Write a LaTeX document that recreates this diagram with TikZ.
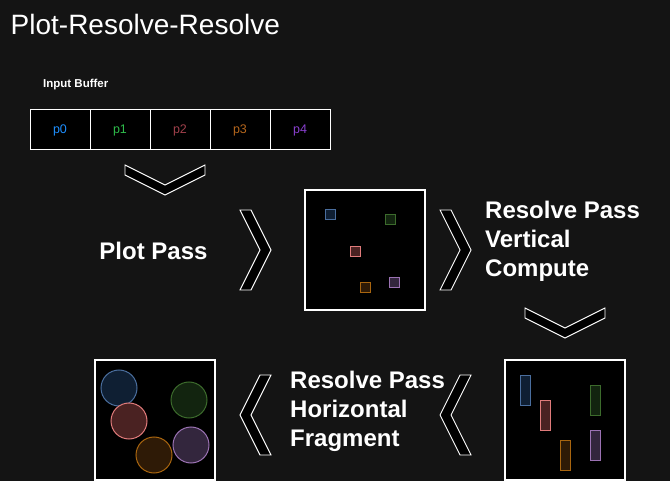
\documentclass[tikz,border=0pt]{standalone}
\usepackage{fontspec}
\setmainfont{Liberation Sans}
\usepackage{tikz}
\usetikzlibrary{positioning,calc}

\definecolor{bgcol}{HTML}{141414}
\definecolor{p0text}{HTML}{1E90FF}
\definecolor{p1text}{HTML}{2EBB4A}
\definecolor{p2text}{HTML}{A0404B}
\definecolor{p3text}{HTML}{B5661C}
\definecolor{p4text}{HTML}{8A40D0}
\definecolor{p0line}{HTML}{4A6E9E}
\definecolor{p0fill}{HTML}{0F1F33}
\definecolor{p1line}{HTML}{3C6B2C}
\definecolor{p1fill}{HTML}{12240F}
\definecolor{p2line}{HTML}{E07B7B}
\definecolor{p2fill}{HTML}{4A2222}
\definecolor{p3line}{HTML}{A8650F}
\definecolor{p3fill}{HTML}{2E1A06}
\definecolor{p4line}{HTML}{9B72B3}
\definecolor{p4fill}{HTML}{33263D}

\begin{document}
\begin{tikzpicture}[x=1pt,y=-1pt,
  cell/.style={rectangle,draw=white,line width=1pt,fill=black,minimum width=60pt,minimum height=40pt,inner sep=0pt,font=\fontsize{12.5}{14}\selectfont,text=#1},
  canvas/.style={rectangle,draw=white,line width=1.2pt,fill=black,minimum size=120pt,inner sep=0pt},
  sq/.style={rectangle,draw=#1line,fill=#1fill,line width=1pt,minimum size=10pt,inner sep=0pt},
  bar/.style={rectangle,draw=#1line,fill=#1fill,line width=1pt,minimum width=10pt,minimum height=30pt,inner sep=0pt},
  blob/.style={circle,draw=#1line,fill=#1fill,line width=1pt,minimum size=36pt,inner sep=0pt},
  chev/.style={draw=white,fill=black,line width=0.9pt,line join=miter},
  passlabel/.style={font=\fontsize{24}{29}\selectfont\bfseries,text=white,align=left,inner sep=0pt},
]

% ==== BACKGROUND ====
\fill[bgcol] (0,0) rectangle (670,481);
\useasboundingbox (0,0) rectangle (670,481);

\node[font=\fontsize{28}{33}\selectfont,text=white,anchor=base west,inner sep=0pt] (title) at (10.5,34.5) {Plot-Resolve-Resolve};

% ==== INPUT BUFFER ====
\node[font=\fontsize{11.5}{14}\selectfont\bfseries,text=white,anchor=base west,inner sep=0pt] (buflabel) at (43,88) {Input Buffer};

\node[cell=p0text] (p0) at (60,130) {p0};
\node[cell=p1text] (p1) at (120,130) {p1};
\node[cell=p2text] (p2) at (180,130) {p2};
\node[cell=p3text] (p3) at (240,130) {p3};
\node[cell=p4text] (p4) at (300,130) {p4};

% down chevron below the buffer
\draw[chev] (125,165) -- (165,185) -- (205,165) -- (205,175) -- (165,195) -- (125,175) -- cycle;

% ==== PLOT PASS ====
\node[passlabel] (plotlbl) at (153.5,251) {Plot Pass};
\draw[chev] (240,210) -- (251,210) -- (271,250) -- (251,290) -- (240,290) -- (260,250) -- cycle;

\node[canvas] (plotbox) at (365,250) {};
\node[sq=p0] (s0) at (330,215) {};
\node[sq=p1] (s1) at (390,220) {};
\node[sq=p2] (s2) at (355,252) {};
\node[sq=p3] (s3) at (365,288) {};
\node[sq=p4] (s4) at (394,283) {};

% ==== VERTICAL RESOLVE ====
\draw[chev] (440,210) -- (451,210) -- (471,250) -- (451,290) -- (440,290) -- (460,250) -- cycle;
\node[passlabel,anchor=west] (vertlbl) at (485,241.5) {Resolve Pass\\Vertical\\Compute};

\draw[chev] (525,308) -- (565,328) -- (605,308) -- (605,318) -- (565,338) -- (525,318) -- cycle;

\node[canvas] (vertbox) at (565,420) {};
\node[bar=p0] (b0) at (525,390) {};
\node[bar=p1] (b1) at (595,400) {};
\node[bar=p2] (b2) at (545,415) {};
\node[bar=p3] (b3) at (565,455) {};
\node[bar=p4] (b4) at (595,445) {};

% ==== HORIZONTAL RESOLVE ====
\draw[chev] (471,375) -- (460,375) -- (440,415) -- (460,455) -- (471,455) -- (451,415) -- cycle;
\node[passlabel,anchor=west] (horzlbl) at (290,411.5) {Resolve Pass\\Horizontal\\Fragment};
\draw[chev] (271,375) -- (260,375) -- (240,415) -- (260,455) -- (271,455) -- (251,415) -- cycle;

\node[canvas] (horzbox) at (155,420) {};
\node[blob=p0] (c0) at (119,388) {};
\node[blob=p1] (c1) at (189,400) {};
\node[blob=p2] (c2) at (129,421) {};
\node[blob=p3] (c3) at (154,455) {};
\node[blob=p4] (c4) at (191,445) {};

\end{tikzpicture}
\end{document}
